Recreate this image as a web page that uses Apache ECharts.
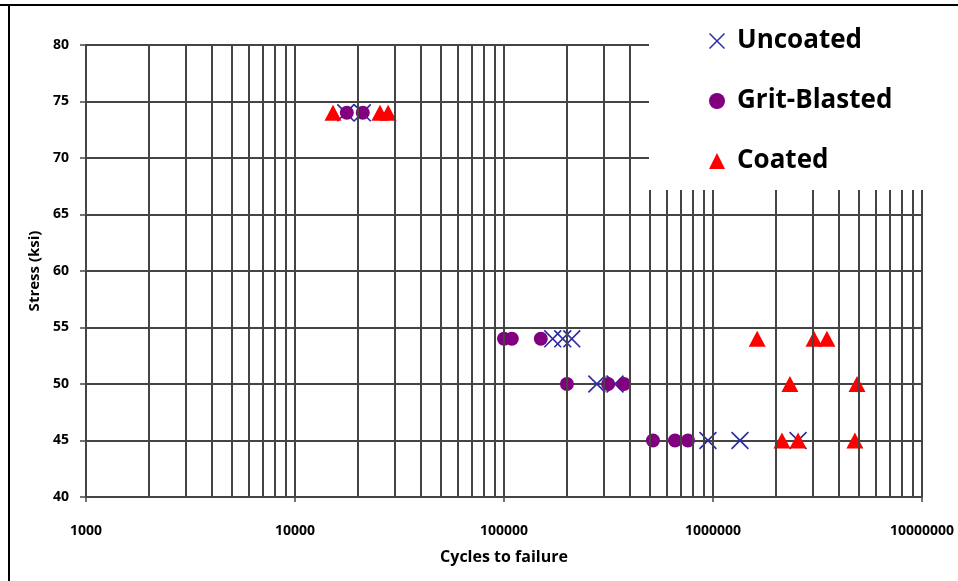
<!DOCTYPE html>
<html>
<head>
<meta charset="utf-8">
<script src="https://cdn.jsdelivr.net/npm/echarts@6/dist/echarts.min.js"></script>
<style>
  html, body { margin: 0; padding: 0; background: #fff; }
  #chart { width: 958px; height: 581px; }
</style>
</head>
<body>
<div id="chart"></div>
<script>
// cycles to failure / stress (ksi)
var uncoatedCycles = [17500, 21000, 171000, 191000, 211000, 278000, 340000, 946000, 1346000, 2552000];
var uncoatedStress = [74, 74, 54, 54, 54, 50, 50, 45, 45, 45];

var gritCycles = [17700, 21100, 100000, 109000, 150000, 200000, 315000, 375000, 516000, 658000, 759000];
var gritStress = [74, 74, 54, 54, 54, 50, 50, 50, 45, 45, 45];

var coatedCycles = [15200, 25500, 27900, 1627000, 3042000, 3508000, 2334000, 4887000, 2138000, 2552000, 4775000];
var coatedStress = [74, 74, 74, 54, 54, 54, 50, 50, 45, 45, 45];

var decades = [1000, 10000, 100000, 1000000, 10000000];
var multipliers = [1, 2, 3, 4, 5, 6, 7, 8, 9];

function pairs(xs, ys) {
    return xs.map(function (x, i) { return [x, ys[i]]; });
}

// vertical grid at every 1..9 x decade
var gridValues = [];
decades.forEach(function (d, i) {
    multipliers.forEach(function (m) {
        if (i < decades.length - 1 || m === 1) gridValues.push(d * m);
    });
});

var xMark = 'path://M0,1.3L1.3,0L20,18.7L18.7,20Z M18.7,0L20,1.3L1.3,20L0,18.7Z';
var font = '"Open Sans", Lato, sans-serif';

var myChart = echarts.init(document.getElementById('chart'));
var option = {
    animation: false,
    grid: { left: 86, right: 36, top: 45, bottom: 84 },
    xAxis: {
        type: 'log',
        logBase: 10,
        min: 1000,
        max: 10000000,
        name: 'Cycles to failure',
        nameLocation: 'middle',
        nameGap: 52,
        nameTextStyle: { fontFamily: font, fontWeight: 'bold', fontSize: 16, color: '#000' },
        axisLine: { show: true, onZero: false, lineStyle: { color: '#444', width: 2 } },
        axisTick: { show: true, length: 5, lineStyle: { color: '#444', width: 1.5 } },
        axisLabel: {
            margin: 27,
            fontFamily: font, fontWeight: 'bold', fontSize: 14, color: '#000',
            formatter: function (v) { return String(Math.round(v)); }
        },
        splitLine: { show: false }
    },
    yAxis: {
        type: 'value',
        min: 40,
        max: 80,
        interval: 5,
        name: 'Stress (ksi)',
        nameLocation: 'middle',
        nameGap: 44,
        nameTextStyle: { fontFamily: font, fontWeight: 'bold', fontSize: 15, color: '#000' },
        axisLine: { show: true, lineStyle: { color: '#444', width: 2 } },
        axisTick: { show: true, length: 6, lineStyle: { color: '#444', width: 1.5 } },
        axisLabel: { margin: 17, fontFamily: font, fontWeight: 'bold', fontSize: 14, color: '#000' },
        splitLine: { show: true, lineStyle: { color: '#444', width: 2 } }
    },
    legend: {
        orient: 'vertical',
        left: 704,
        top: 21,
        itemGap: 30,
        itemWidth: 16,
        itemHeight: 16,
        textStyle: { fontFamily: font, fontWeight: 'bold', fontSize: 26, color: '#000', lineHeight: 30, padding: [0, 0, 0, 7] },
        z: 20,
        data: ['Uncoated', 'Grit-Blasted', 'Coated']
    },
    graphic: [
        { type: 'rect', z: 10, shape: { x: 649, y: 6, width: 309, height: 184 }, style: { fill: '#fff' } },
        { type: 'line', z: 11, shape: { x1: 0, y1: 5, x2: 958, y2: 5 }, style: { stroke: '#000', lineWidth: 2 } },
        { type: 'line', z: 11, shape: { x1: 9, y1: 5, x2: 9, y2: 581 }, style: { stroke: '#000', lineWidth: 2 } }
    ],
    series: [
        {
            name: 'grid',
            type: 'scatter',
            data: [],
            silent: true,
            markLine: {
                silent: true,
                symbol: 'none',
                label: { show: false },
                lineStyle: { color: '#444', width: 2, type: 'solid' },
                data: gridValues.map(function (v) { return { xAxis: v }; })
            }
        },
        {
            name: 'Uncoated',
            type: 'scatter',
            symbol: xMark,
            symbolSize: 18,
            itemStyle: { color: '#2b2ba6', opacity: 1 },
            data: pairs(uncoatedCycles, uncoatedStress)
        },
        {
            name: 'Grit-Blasted',
            type: 'scatter',
            symbol: 'circle',
            symbolSize: 14,
            itemStyle: { color: '#800080', opacity: 1 },
            data: pairs(gritCycles, gritStress)
        },
        {
            name: 'Coated',
            type: 'scatter',
            symbol: 'triangle',
            symbolSize: [17, 16],
            itemStyle: { color: '#ff0000', opacity: 1 },
            data: pairs(coatedCycles, coatedStress)
        }
    ]
};
myChart.setOption(option);
</script>
</body>
</html>
